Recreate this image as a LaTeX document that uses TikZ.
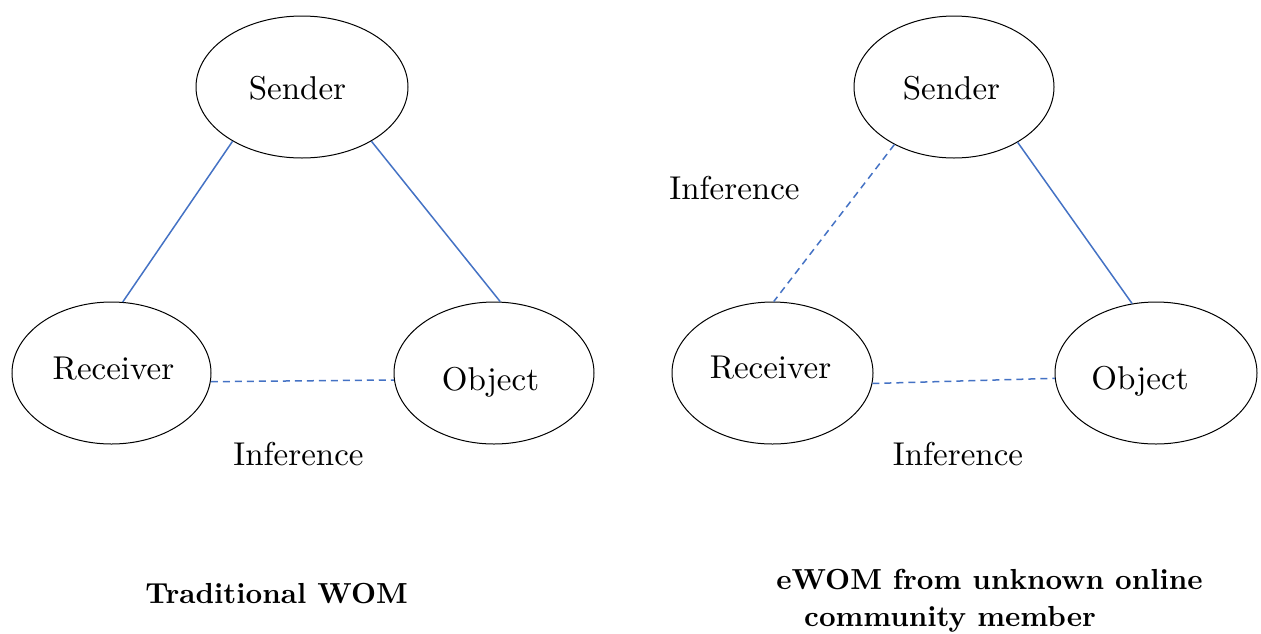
\documentclass[tikz,border=0pt]{standalone}
\usepackage{fontspec}
\setmainfont{lmroman10-regular.otf}[BoldFont=lmroman10-bold.otf]
\usetikzlibrary{shapes.geometric}
\definecolor{linkblue}{RGB}{68,114,196}
\tikzset{
  ell/.style={ellipse, draw=black, line width=1pt, inner sep=0pt, minimum height=142pt},
  txt/.style={anchor=base, inner sep=0pt, font=\fontsize{33}{40}\selectfont},
  ttl/.style={anchor=base, inner sep=0pt, font=\fontsize{29}{36}\selectfont\bfseries},
  solidlink/.style={draw=linkblue, line width=1.5pt},
  dashlink/.style={draw=linkblue, line width=1.5pt, dash pattern=on 7pt off 5pt}
}
\begin{document}
\begin{tikzpicture}[x=1pt, y=-1pt]
\useasboundingbox (0,0) rectangle (1261,633);
% ---- left: traditional WOM
\node[ell, minimum width=212pt] (ls) at (302,87) {};
\node[ell, minimum width=199pt] (lr) at (111.5,373) {};
\node[ell, minimum width=200pt] (lo) at (494,373) {};
\node[txt] (lst) at (297.5,99) {Sender};
\node[txt] (lrt) at (113.5,379) {Receiver};
\node[txt] (lot) at (490.5,390) {Object};
\node[txt] (lin) at (298.5,465) {Inference};
\node[ttl] (ltitle) at (276.5,603) {Traditional WOM};
\draw[solidlink] (ls.218) -- (lr.81);
\draw[solidlink] (ls.322) -- (lo.85);
\draw[dashlink] (lr.355) -- (lo.184);
% ---- right: eWOM
\node[ell, minimum width=200pt] (rs) at (954,87) {};
\node[ell, minimum width=201pt] (rr) at (772.5,373) {};
\node[ell, minimum width=202pt] (ro) at (1156,373) {};
\node[txt] (rst) at (951.5,99) {Sender};
\node[txt] (rrt) at (770.5,378) {Receiver};
\node[txt] (rot) at (1140,389) {Object};
\node[txt] (rin1) at (734.5,199) {Inference};
\node[txt] (rin2) at (958,465) {Inference};
\node[ttl] (rtitle1) at (989.5,589) {eWOM from unknown online};
\node[ttl] (rtitle2) at (950,626) {community member};
\draw[dashlink] (rs.224) -- (rr.89);
\draw[solidlink] (rs.319) -- (ro.109);
\draw[dashlink] (rr.354) -- (ro.183);
\end{tikzpicture}
\end{document}
